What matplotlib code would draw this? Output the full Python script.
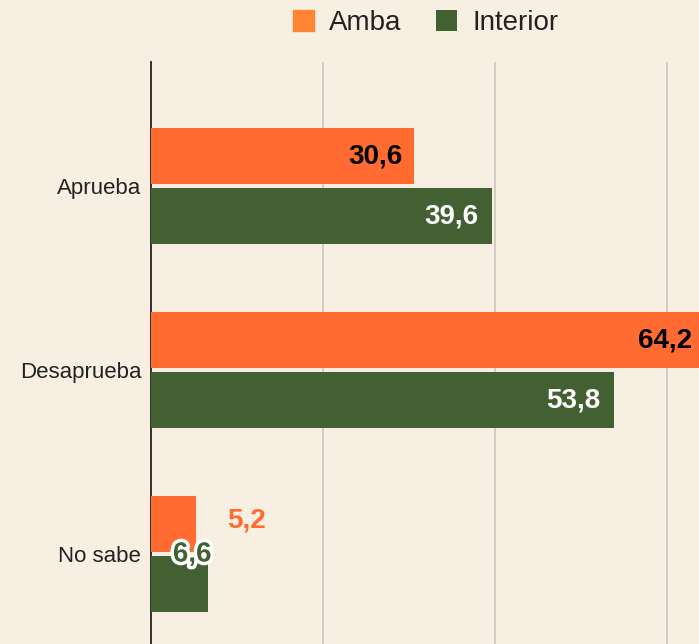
import numpy as np
import matplotlib.pyplot as plt
import matplotlib.patheffects as pe

# Data
categories = ['Aprueba', 'Desaprueba', 'No sabe']
amba = [30.6, 64.2, 5.2]
interior = [39.6, 53.8, 6.6]
series_names = ['Amba', 'Interior']

bg = '#f7efe2'
orange = '#ff6b30'
green = '#436033'

plt.rcParams['font.family'] = ['Liberation Sans', 'DejaVu Sans']

fig = plt.figure(figsize=(6.99, 6.44), dpi=100, facecolor=bg)
ax = fig.add_axes([151 / 699, 0, 548 / 699, 1 - 62 / 644])
ax.set_facecolor(bg)

y = np.arange(len(categories))
h = 0.304
off = 0.163
ax.barh(y - off, amba, height=h, color=orange, label=series_names[0], zorder=3)
ax.barh(y + off, interior, height=h, color=green, label=series_names[1], zorder=3)

ax.set_xlim(0, 63.72)
ax.set_ylim(2.489, -0.674)
ax.set_xticks([20, 40, 60])
ax.xaxis.grid(True, color='#cbc7c0', linewidth=1.2, zorder=0)
ax.tick_params(axis='x', length=0, labelbottom=False)
ax.tick_params(axis='y', length=0, labelsize=16, labelcolor='#222222', pad=7)
ax.set_yticks(y)
ax.set_yticklabels(categories)
for s in ['top', 'right', 'bottom']:
    ax.spines[s].set_visible(False)
ax.spines['left'].set_color('#222222')
ax.spines['left'].set_linewidth(1.3)

fmt = lambda v: f'{v:.1f}'.replace('.', ',')

# Amba labels
for i, v in enumerate(amba):
    if v > 10:
        ax.text(v - 1.3, i - off, fmt(v), ha='right', va='center', fontsize=20,
                fontweight='bold', color='black', zorder=4)
    else:
        ax.text(v + 3.7, i - off - 0.02, fmt(v), ha='left', va='center', fontsize=20,
                fontweight='bold', color=orange, zorder=4)

# Interior labels
for i, v in enumerate(interior):
    if v > 10:
        ax.text(v - 1.5, i + off, fmt(v), ha='right', va='center', fontsize=20,
                fontweight='bold', color='white', zorder=4)
    else:
        ax.text(v + 0.45, i + off - 0.16, fmt(v), ha='right', va='center', fontsize=20,
                fontweight='bold', color=green, zorder=4,
                path_effects=[pe.withStroke(linewidth=5, foreground='white')])

leg = fig.legend(loc='upper center', bbox_to_anchor=(0.609, 1.023), ncol=2, frameon=False,
                 fontsize=20, handlelength=0.75, handleheight=0.75, handletextpad=0.55,
                 columnspacing=1.26, labelcolor='#222222')
leg.legend_handles[0].set_color('#ff8533')

fig.savefig('out.png', dpi=100, facecolor=bg)
